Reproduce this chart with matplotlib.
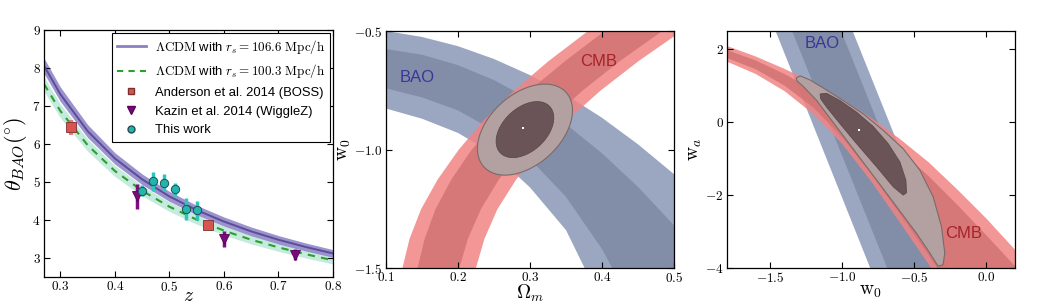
import numpy as np
import matplotlib
matplotlib.use('Agg')
import matplotlib.pyplot as plt
from matplotlib.ticker import FuncFormatter
from matplotlib.lines import Line2D

plt.rcParams['font.family'] = ['Liberation Sans', 'DejaVu Sans']
plt.rcParams['mathtext.fontset'] = 'cm'

# ---- panel 1: theta_BAO(z) ----
z_model = [0.27, 0.30, 0.35, 0.40, 0.45, 0.50, 0.55, 0.60, 0.65, 0.70, 0.75, 0.80]
theta_rs106 = [8.06, 7.31, 6.34, 5.62, 5.07, 4.62, 4.26, 3.96, 3.70, 3.48, 3.29, 3.12]
err_rs106 = [0.20, 0.19, 0.17, 0.15, 0.14, 0.13, 0.125, 0.12, 0.115, 0.11, 0.105, 0.10]
theta_rs100 = [7.58, 6.87, 5.97, 5.29, 4.77, 4.35, 4.01, 3.72, 3.48, 3.28, 3.10, 2.94]
err_rs100 = [0.19, 0.18, 0.16, 0.145, 0.135, 0.125, 0.12, 0.115, 0.11, 0.105, 0.10, 0.10]

z_boss = [0.32, 0.57]
th_boss = [6.44, 3.87]
e_boss = [0.20, 0.05]
z_wig = [0.44, 0.60, 0.73]
th_wig = [4.62, 3.50, 3.09]
e_wig = [0.32, 0.22, 0.15]
z_this = [0.45, 0.47, 0.49, 0.51, 0.53, 0.55]
th_this = [4.77, 5.02, 4.98, 4.81, 4.29, 4.25]
e_this = [0.15, 0.25, 0.22, 0.17, 0.29, 0.25]

# ---- panel 2: Omega_m - w0 ----
om_grid = [0.10, 0.15, 0.20, 0.25, 0.30, 0.35, 0.40, 0.45, 0.50]
bao2_light_hi = [-0.500, -0.525, -0.564, -0.618, -0.686, -0.769, -0.866, -0.978, -1.104]
bao2_dark_hi = [-0.576, -0.600, -0.644, -0.707, -0.790, -0.893, -1.016, -1.158, -1.320]
bao2_dark_lo = [-0.742, -0.780, -0.835, -0.920, -1.040, -1.200, -1.420, -1.700, -2.000]
bao2_light_lo = [-0.827, -0.870, -0.930, -1.020, -1.160, -1.340, -1.650, -2.000, -2.400]

w_grid = [-1.5, -1.375, -1.25, -1.125, -1.0, -0.875, -0.75, -0.625, -0.5, -0.4]
cmb2_light_l = [0.122, 0.132, 0.148, 0.171, 0.200, 0.235, 0.277, 0.325, 0.379, 0.427]
cmb2_dark_l = [0.143, 0.153, 0.168, 0.190, 0.218, 0.254, 0.298, 0.348, 0.402, 0.452]
cmb2_dark_r = [0.201, 0.213, 0.231, 0.256, 0.288, 0.327, 0.372, 0.424, 0.482, 0.535]
cmb2_light_r = [0.224, 0.236, 0.254, 0.280, 0.312, 0.351, 0.397, 0.450, 0.509, 0.562]

# joint contours: centre, half extents (2 sigma / 1 sigma), correlation
joint2_center = [0.293, -0.916]
joint2_outer = [0.066, 0.192]
joint2_inner = [0.040, 0.118]
joint2_rho = 0.42
best2 = [0.290, -0.908]

# ---- panel 3: w0 - wa ----
bao3_wa = [2.5, -4.0]
bao3_light_l = [-1.465, -0.808]
bao3_dark_l = [-1.350, -0.690]
bao3_dark_r = [-1.010, -0.350]
bao3_light_r = [-0.930, -0.270]

w0_grid = [-1.8, -1.6, -1.4, -1.2, -1.0, -0.8, -0.6, -0.4, -0.2, 0.0, 0.2]
cmb3_light_hi = [2.09, 1.80, 1.46, 1.08, 0.63, 0.12, -0.46, -1.10, -1.85, -2.64, -3.50]
cmb3_dark_hi = [1.98, 1.69, 1.32, 0.89, 0.40, -0.15, -0.78, -1.48, -2.27, -3.10, -3.95]
cmb3_dark_lo = [1.76, 1.45, 1.00, 0.40, -0.42, -1.42, -2.52, -3.65, -4.85, -6.05, -7.25]
cmb3_light_lo = [1.66, 1.32, 0.85, 0.22, -0.60, -1.62, -2.75, -3.90, -5.10, -6.30, -7.50]

joint3_outer_w0 = [-1.320, -1.292, -1.223, -1.131, -0.992, -0.854, -0.715, -0.577, -0.461,
                   -0.369, -0.311, -0.288, -0.300, -0.335, -0.392, -0.485, -0.623, -0.761,
                   -0.900, -1.038, -1.177, -1.269, -1.315]
joint3_outer_wa = [1.21, 1.27, 1.155, 0.936, 0.59, 0.227, -0.227, -0.727, -1.318,
                   -2.045, -2.864, -3.59, -3.91, -3.95, -3.59, -3.045, -2.318, -1.59,
                   -0.864, -0.136, 0.591, 0.973, 1.136]
joint3_inner_w0 = [-1.154, -1.108, -1.015, -0.900, -0.785, -0.681, -0.600, -0.558, -0.554,
                   -0.577, -0.646, -0.761, -0.900, -1.015, -1.108, -1.149]
joint3_inner_wa = [0.773, 0.791, 0.591, 0.273, -0.118, -0.591, -1.091, -1.591, -1.936,
                   -2.000, -1.773, -1.227, -0.591, -0.045, 0.409, 0.636]
best3 = [-0.881, -0.227]

BAO_L = '#9ba7c0'
BAO_D = '#828da7'
CMB_L = '#f08484'
CMB_D = '#d37373'
OUT_C = '#b3a0a0'
IN_C = '#6a5457'


def conf_ellipse(center, ext, rho):
    t = np.linspace(0, 2 * np.pi, 200)
    x = center[0] + ext[0] * np.cos(t)
    y = center[1] + ext[1] * (rho * np.cos(t) + np.sqrt(1 - rho ** 2) * np.sin(t))
    return x, y


def style_axes(ax):
    ax.tick_params(direction='in', top=True, right=True, length=4, width=0.8,
                   labelsize=9.5, pad=2.5)
    for s in ax.spines.values():
        s.set_linewidth(0.9)


fig = plt.figure(figsize=(10.52, 3.05), dpi=100)
ax1 = fig.add_axes([0.0418, 0.0918, 0.2747, 0.810])
ax2 = fig.add_axes([0.3669, 0.1213, 0.2738, 0.777])
ax3 = fig.add_axes([0.6911, 0.1213, 0.2738, 0.777])

# panel 1
zm = np.array(z_model)
t1 = np.array(theta_rs106)
t2 = np.array(theta_rs100)
ax1.fill_between(zm, t2 - np.array(err_rs100), t2 + np.array(err_rs100),
                 color='#9fdcc8', alpha=0.6, lw=0)
ax1.fill_between(zm, t1 - np.array(err_rs106), t1 + np.array(err_rs106),
                 color='#8a7fc6', alpha=0.85, lw=0)
ax1.plot(zm, t1, color='#5a4e98', lw=1.4)
ax1.plot(zm, t2, color='#2ca02c', lw=1.5, ls=(0, (3.5, 3)))

ax1.errorbar(z_boss, th_boss, yerr=e_boss, fmt='none', ecolor='#e8706c', elinewidth=3, alpha=0.9)
ax1.errorbar(z_wig, th_wig, yerr=e_wig, fmt='none', ecolor='#800c80', elinewidth=2.5)
ax1.errorbar(z_this, th_this, yerr=e_this, fmt='none', ecolor='#2ec4c0', elinewidth=2.5)
ax1.plot(z_boss, th_boss, 's', ms=6.5, mfc='#d9544f', mec='#7a3030', mew=0.6, ls='none')
ax1.plot(z_wig, th_wig, 'v', ms=7, mfc='#7a0a7a', mec='#5a005a', mew=0.6, ls='none')
ax1.plot(z_this, th_this, 'o', ms=6, mfc='#22b5ae', mec='#1f4f4f', mew=0.7, ls='none')

handles = [
    Line2D([], [], color='#8a80c2', lw=2),
    Line2D([], [], color='#2ca02c', lw=1.5, ls=(0, (3, 2.5))),
    Line2D([], [], marker='s', ms=5, mfc='#d9544f', mec='#7a3030', ls='none'),
    Line2D([], [], marker='v', ms=5.5, mfc='#7a0a7a', mec='#5a005a', ls='none'),
    Line2D([], [], marker='o', ms=5, mfc='#22b5ae', mec='#1f4f4f', ls='none'),
]
labels = [
    r'$\Lambda\mathrm{CDM}$ with $r_s = 106.6\ \mathrm{Mpc/h}$',
    r'$\Lambda\mathrm{CDM}$ with $r_s = 100.3\ \mathrm{Mpc/h}$',
    'Anderson et al. 2014 (BOSS)',
    'Kazin et al. 2014 (WiggleZ)',
    'This work',
]
leg = ax1.legend(handles, labels, loc='upper right', fontsize=9.4, fancybox=False,
                 edgecolor='black', framealpha=1, borderaxespad=0.2,
                 handlelength=2.2, handletextpad=0.7, labelspacing=0.5, borderpad=0.4)
leg.get_frame().set_linewidth(0.8)

ax1.set_xlim(0.27, 0.8)
ax1.set_ylim(2.5, 9)
ax1.set_xticks([0.3, 0.4, 0.5, 0.6, 0.7, 0.8])
ax1.set_yticks([3, 4, 5, 6, 7, 8, 9])
ax1.xaxis.set_major_formatter(FuncFormatter(lambda v, p: r'$%.1f$' % v))
ax1.yaxis.set_major_formatter(FuncFormatter(lambda v, p: r'$%d$' % v))
style_axes(ax1)
ax1.set_xlabel(r'$z$', fontsize=14, labelpad=-5)
ax1.set_ylabel(r'$\theta_{BAO}(^{\circ})$', fontsize=16, labelpad=2)

# panel 2
ax2.fill_between(om_grid, bao2_light_lo, bao2_light_hi, color=BAO_L, lw=0)
ax2.fill_between(om_grid, bao2_dark_lo, bao2_dark_hi, color=BAO_D, lw=0)
ax2.fill_betweenx(w_grid, cmb2_light_l, cmb2_light_r, color=CMB_L, alpha=0.85, lw=0)
ax2.fill_betweenx(w_grid, cmb2_dark_l, cmb2_dark_r, color=CMB_D, alpha=0.85, lw=0)
ex, ey = conf_ellipse(joint2_center, joint2_outer, joint2_rho)
ax2.fill(ex, ey, facecolor=OUT_C, edgecolor='#7a6a6a', lw=0.8)
ex, ey = conf_ellipse(joint2_center, joint2_inner, joint2_rho)
ax2.fill(ex, ey, facecolor=IN_C, edgecolor='#5a4a4a', lw=0.6)
ax2.plot(best2[0], best2[1], 's', ms=2, color='white', mew=0)
ax2.text(0.143, -0.696, 'BAO', color='#3b3696', fontsize=12, ha='center', va='center')
ax2.text(0.395, -0.63, 'CMB', color='#a82228', fontsize=12, ha='center', va='center')
ax2.set_xlim(0.1, 0.5)
ax2.set_ylim(-1.5, -0.5)
ax2.set_xticks([0.1, 0.2, 0.3, 0.4, 0.5])
ax2.set_yticks([-1.5, -1.0, -0.5])
ax2.xaxis.set_major_formatter(FuncFormatter(lambda v, p: r'$%.1f$' % v))
ax2.yaxis.set_major_formatter(FuncFormatter(lambda v, p: r'$%.1f$' % v))
style_axes(ax2)
ax2.set_xlabel(r'$\Omega_m$', fontsize=14, labelpad=-2)
ax2.set_ylabel(r'$\mathrm{w}_0$', fontsize=14, labelpad=1)

# panel 3
ax3.fill_betweenx(bao3_wa, bao3_light_l, bao3_light_r, color=BAO_L, lw=0)
ax3.fill_betweenx(bao3_wa, bao3_dark_l, bao3_dark_r, color=BAO_D, lw=0)
ax3.fill_between(w0_grid, cmb3_light_lo, cmb3_light_hi, color=CMB_L, alpha=0.85, lw=0)
ax3.fill_between(w0_grid, cmb3_dark_lo, cmb3_dark_hi, color=CMB_D, alpha=0.85, lw=0)
ax3.fill(joint3_outer_w0, joint3_outer_wa, facecolor=OUT_C, edgecolor='#7a6a6a', lw=0.8)
ax3.fill(joint3_inner_w0, joint3_inner_wa, facecolor=IN_C, edgecolor='#5a4a4a', lw=0.6)
ax3.plot(best3[0], best3[1], 's', ms=2, color='white', mew=0)
ax3.text(-1.14, 2.15, 'BAO', color='#3b3696', fontsize=12, ha='center', va='center')
ax3.text(-0.16, -3.05, 'CMB', color='#a82228', fontsize=12, ha='center', va='center')
ax3.set_xlim(-1.8, 0.2)
ax3.set_ylim(-4, 2.5)
ax3.set_xticks([-1.5, -1.0, -0.5, 0.0])
ax3.set_yticks([-4, -2, 0, 2])
ax3.xaxis.set_major_formatter(FuncFormatter(lambda v, p: r'$%.1f$' % v))
ax3.yaxis.set_major_formatter(FuncFormatter(lambda v, p: r'$%d$' % v))
style_axes(ax3)
ax3.set_xlabel(r'$\mathrm{w}_0$', fontsize=14, labelpad=-2)
ax3.set_ylabel(r'$\mathrm{w}_a$', fontsize=14, labelpad=1)

fig.savefig('out.png', dpi=100)
